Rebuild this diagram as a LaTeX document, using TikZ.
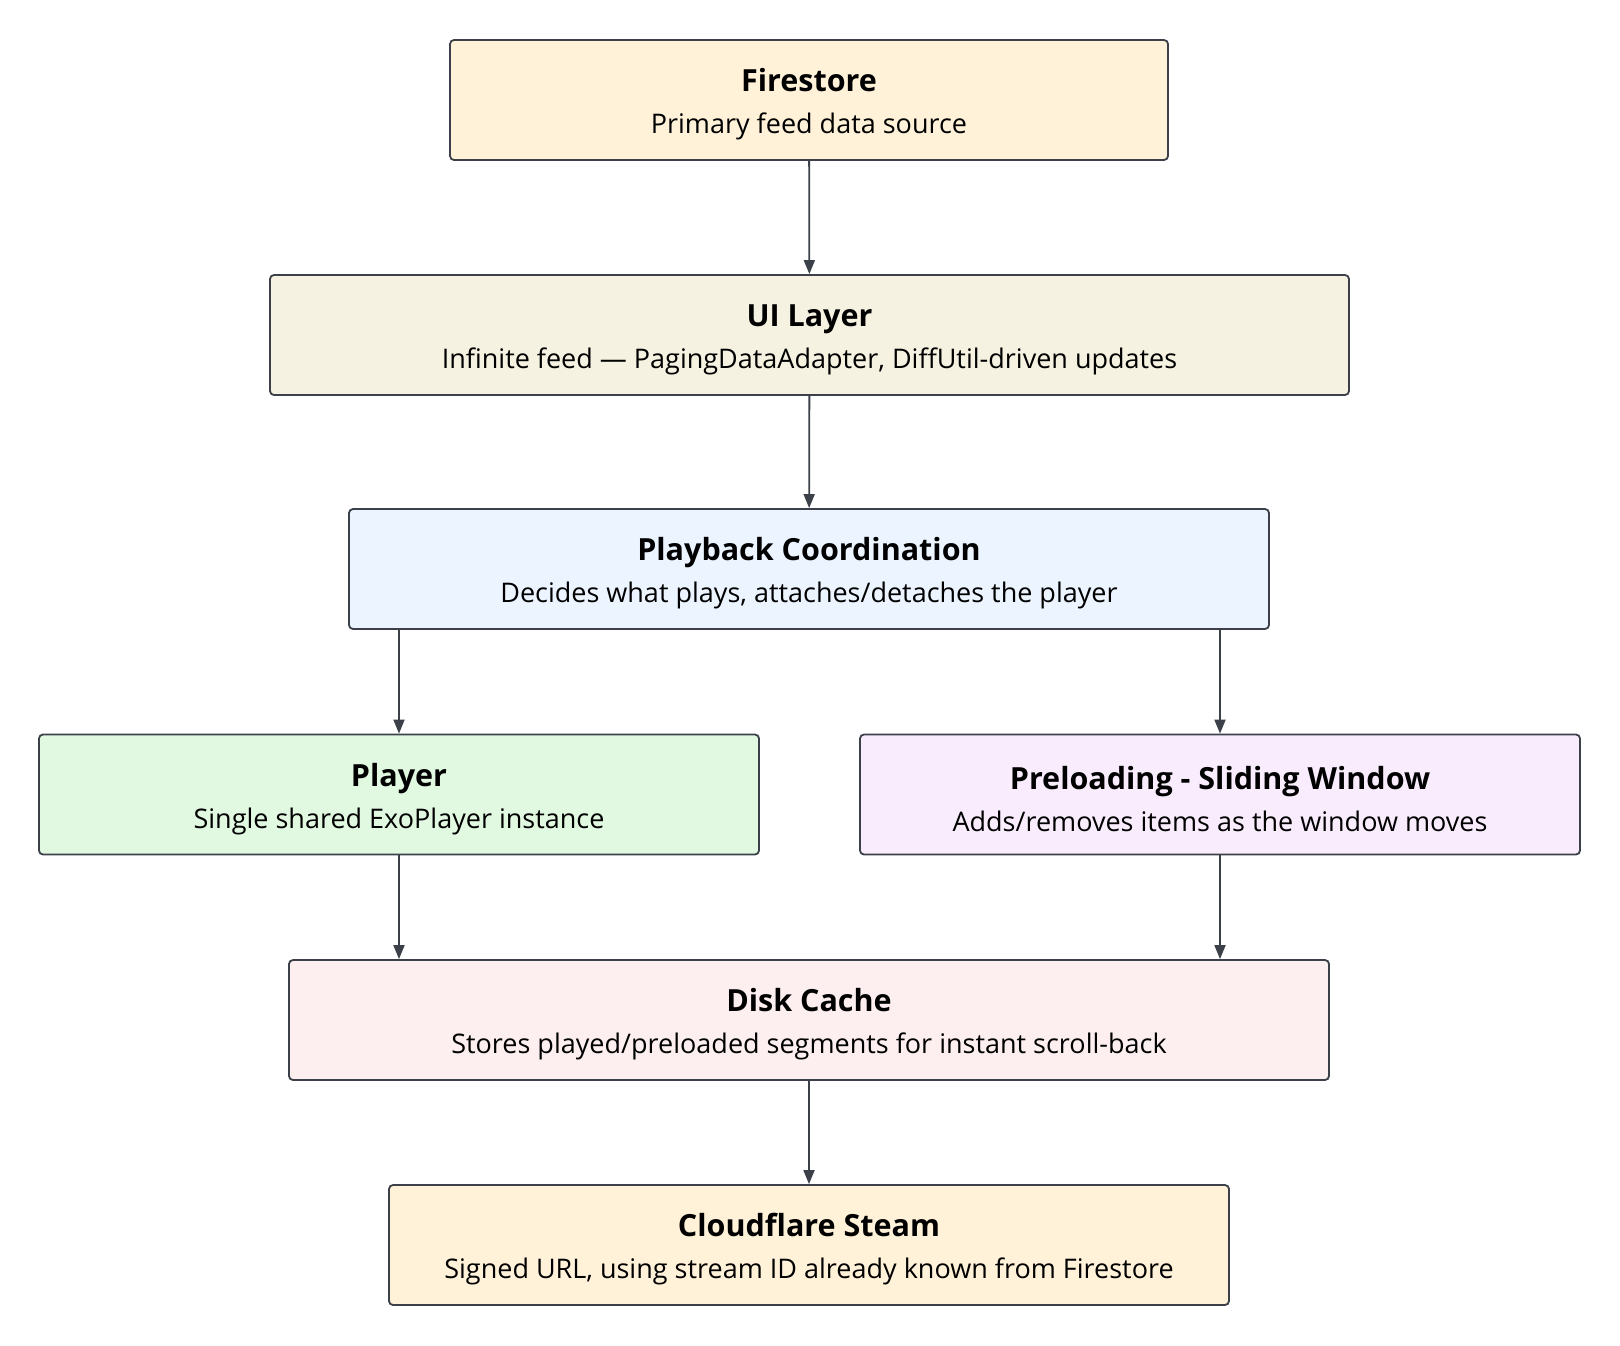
\documentclass[tikz,border=0pt]{standalone}
\usepackage{fontspec}
\setmainfont{Open Sans}
\usetikzlibrary{arrows.meta}

\definecolor{edgegray}{HTML}{3B4049}
\definecolor{fillcream}{HTML}{FFF2D9}
\definecolor{fillsand}{HTML}{F5F2E1}
\definecolor{fillblue}{HTML}{EBF4FF}
\definecolor{fillgreen}{HTML}{E1F8E1}
\definecolor{fillviolet}{HTML}{F9EDFD}
\definecolor{fillrose}{HTML}{FDEFEF}

\newcommand{\boxlabel}[2]{{\fontsize{30.5}{42}\selectfont\bfseries\rule{0pt}{32pt}#1}\\{#2}}

\begin{document}
\begin{tikzpicture}[x=1pt,y=1pt,
  layer/.style={draw=edgegray,line width=1.8pt,rounded corners=4pt,inner sep=0pt,
    minimum height=120pt,align=center,font=\fontsize{27}{42}\selectfont},
  flow/.style={draw=edgegray,line width=1.8pt,-{Triangle[length=14pt,width=11pt]}}]
   \useasboundingbox (0,0) rectangle (1620,-1345);
   % stacked layers
   \node[layer,fill=fillcream,minimum width=718]  (fire)    at (809,-100)   {\boxlabel{Firestore}{Primary feed data source}};
   \node[layer,fill=fillsand,minimum width=1079]  (ui)      at (809.5,-335) {\boxlabel{UI Layer}{Infinite feed — PagingDataAdapter, DiffUtil-driven updates}};
   \node[layer,fill=fillblue,minimum width=920]   (play)    at (809,-569)   {\boxlabel{Playback Coordination}{Decides what plays, attaches/detaches the player}};
   \node[layer,fill=fillgreen,minimum width=720]  (player)  at (399,-794.5) {\boxlabel{Player}{Single shared ExoPlayer instance}};
   \node[layer,fill=fillviolet,minimum width=720] (preload) at (1220,-794.5){\boxlabel{Preloading - Sliding Window}{Adds/removes items as the window moves}};
   \node[layer,fill=fillrose,minimum width=1040]  (disk)    at (809,-1020)  {\boxlabel{Disk Cache}{Stores played/preloaded segments for instant scroll-back}};
   \node[layer,fill=fillcream,minimum width=840]  (cloud)   at (809,-1245)  {\boxlabel{Cloudflare Steam}{Signed URL, using stream ID already known from Firestore}};
   % connectors
   \draw[flow] (fire) -- (ui);
   \draw[flow] (ui) -- (play);
   \draw[flow] (play.south -| player.north) -- (player.north);
   \draw[flow] (play.south -| preload.north) -- (preload.north);
   \draw[flow] (player.south) -- (player.south |- disk.north);
   \draw[flow] (preload.south) -- (preload.south |- disk.north);
   \draw[flow] (disk) -- (cloud);
\end{tikzpicture}
\end{document}
